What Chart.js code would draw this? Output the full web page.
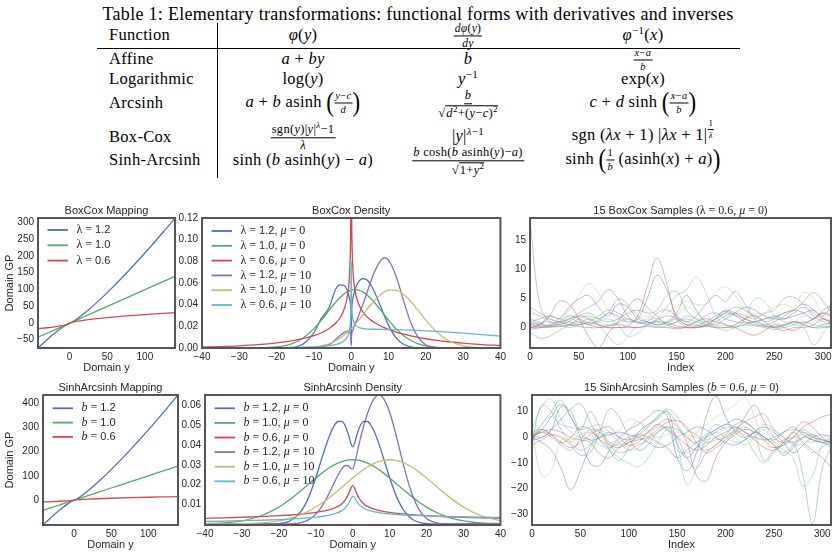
<!DOCTYPE html>
<html>
<head>
<meta charset="utf-8">
<script src="https://cdn.jsdelivr.net/npm/chart.js@4.4.0/dist/chart.umd.min.js"></script>
<style>
  body { margin: 0; width: 838px; height: 556px; position: relative; overflow: hidden; background: #fff;
         font-family: "Liberation Serif", "Times New Roman", serif; color: #000; }
  .t { position: absolute; white-space: nowrap; font-size: 16.5px; letter-spacing: 0.3px; line-height: 1; }
  .c { transform: translate(-50%, -50%); }
  .l { transform: translateY(-50%); }
  i { font-style: italic; }
  .sp { font-size: 11px; position: relative; top: -6px; }
  .fr { display: inline-flex; flex-direction: column; align-items: center; vertical-align: middle; font-size: 12.5px; line-height: 1.05; }
  .fr.fs { font-size: 10.5px; }
  .fr > span:first-child { border-bottom: 1px solid #000; padding: 0 1px 1px; }
  .fr > span:last-child { padding-top: 1px; }
  .sq { border-top: 1px solid #000; padding-left: 1px; }
  .bp { font-size: 23px; vertical-align: middle; display: inline-block; transform: scaleY(1.15); position: relative; top: -1px; }
  sup { font-size: 9px; }
  canvas { position: absolute; }
</style>
</head>
<body>

<!-- Table 1 -->
<div class="t c" style="left:418px;top:14px;font-size:18px">Table 1: Elementary transformations: functional forms with derivatives and inverses</div>
<div style="position:absolute;left:217px;top:23px;width:1px;height:155px;background:#000"></div>
<div style="position:absolute;left:97px;top:48px;width:643px;height:1px;background:#000"></div>

<div class="t l" style="left:109px;top:35px">Function</div>
<div class="t c" style="left:303px;top:35px"><i>φ</i>(<i>y</i>)</div>
<div class="t c" style="left:468px;top:36px"><span class="fr" style="font-size:11.5px"><span><i>dφ</i>(<i>y</i>)</span><span><i>dy</i></span></span></div>
<div class="t c" style="left:643px;top:35px"><i>φ</i><span class="sp">−1</span>(<i>x</i>)</div>

<div class="t l" style="left:109px;top:59px">Affine</div>
<div class="t c" style="left:303px;top:59px"><i>a</i> + <i>by</i></div>
<div class="t c" style="left:468px;top:59px"><i>b</i></div>
<div class="t c" style="left:643px;top:60px"><span class="fr fs"><span><i>x</i>−<i>a</i></span><span><i>b</i></span></span></div>

<div class="t l" style="left:109px;top:79px">Logarithmic</div>
<div class="t c" style="left:303px;top:79px">log(<i>y</i>)</div>
<div class="t c" style="left:468px;top:79px"><i>y</i><span class="sp">−1</span></div>
<div class="t c" style="left:643px;top:79px">exp(<i>x</i>)</div>

<div class="t l" style="left:109px;top:103px">Arcsinh</div>
<div class="t c" style="left:303px;top:103px"><i>a</i> + <i>b</i> asinh <span class="bp">(</span><span class="fr fs"><span><i>y</i>−<i>c</i></span><span><i>d</i></span></span><span class="bp">)</span></div>
<div class="t c" style="left:468px;top:105px"><span class="fr"><span><i>b</i></span><span>√<span class="sq"><i>d</i><sup>2</sup>+(<i>y</i>−<i>c</i>)<sup>2</sup></span></span></span></div>
<div class="t c" style="left:643px;top:103px"><i>c</i> + <i>d</i> sinh <span class="bp">(</span><span class="fr fs"><span><i>x</i>−<i>a</i></span><span><i>b</i></span></span><span class="bp">)</span></div>

<div class="t l" style="left:109px;top:137px">Box-Cox</div>
<div class="t c" style="left:303px;top:137px"><span class="fr"><span>sgn(<i>y</i>)|<i>y</i>|<sup><i>λ</i></sup>−1</span><span><i>λ</i></span></span></div>
<div class="t c" style="left:468px;top:136px">|<i>y</i>|<span class="sp"><i>λ</i>−1</span></div>
<div class="t c" style="left:643px;top:137px">sgn (<i>λx</i> + 1) |<i>λx</i> + 1|<span class="sp" style="top:-7px"><span class="fr" style="font-size:9px"><span>1</span><span><i>λ</i></span></span></span></div>

<div class="t l" style="left:109px;top:160px">Sinh-Arcsinh</div>
<div class="t c" style="left:303px;top:160px">sinh (<i>b</i> asinh(<i>y</i>) − <i>a</i>)</div>
<div class="t c" style="left:468px;top:162px"><span class="fr"><span><i>b</i> cosh(<i>b</i> asinh(<i>y</i>)−<i>a</i>)</span><span>√<span class="sq">1+<i>y</i><sup>2</sup></span></span></span></div>
<div class="t c" style="left:643px;top:160px">sinh <span class="bp">(</span><span class="fr fs"><span>1</span><span><i>b</i></span></span> (asinh(<i>x</i>) + <i>a</i>)<span class="bp">)</span></div>

<script>
// ---------- data ----------

// mapping panels (domain y -> domain GP)
const mapY     = [-42, -30, -20, -10, -5, -2, 0, 2, 5, 10, 20, 30, 50, 75, 100, 125, 140];
const bcMap12  = [-74.8, -50.2, -31.2, -14.0, -6.6, -2.75, -0.83, 1.08, 4.9, 12.4, 29.5, 48.5, 90.3, 147.4, 208.5, 272.8, 312.6];
const bcMap10  = [-43, -31, -21, -11, -6, -3, -1, 1, 4, 9, 19, 29, 49, 74, 99, 124, 139];
const bcMap06  = [-17.4, -14.5, -11.7, -8.3, -6.0, -4.2, -1.67, 0.86, 2.7, 5.0, 8.4, 11.2, 15.8, 20.6, 24.8, 28.5, 30.7];
const saMap12  = [-101.9, -68.1, -41.9, -18.2, -8.0, -2.7, 0, 2.7, 8.0, 18.2, 41.9, 68.1, 125.6, 204.4, 288.6, 377.3, 432.2];
const saMap10  = [-42, -30, -20, -10, -5, -2, 0, 2, 5, 10, 20, 30, 50, 75, 100, 125, 140];
const saMap06  = [-7.1, -5.8, -4.5, -2.9, -1.9, -1.0, 0, 1.0, 1.9, 2.9, 4.5, 5.8, 7.9, 10.1, 12.0, 13.7, 14.7];

// BoxCox density
const bcGrid = [-40, -35, -30, -25, -20, -16, -13, -10, -8, -6, -4, -3, -2, -1, -0.4, -0.1, 0, 0.1, 0.4, 1,
                2, 3, 4, 5, 6, 8, 9, 10, 12, 14, 16, 18, 20, 23, 26, 30, 35, 40];
const bcL12m0  = [0, 0, 0, 0, 0.00001, 0.00048, 0.00346, 0.0141, 0.0274, 0.0369, 0.0554, 0.0582, 0.0578, 0.0526, 0.0444,
                  0.0338, 0.004, 0.0338, 0.0448, 0.0539, 0.0613, 0.0640, 0.0633, 0.0597, 0.0535, 0.0373, 0.0288, 0.0211,
                  0.0096, 0.0034, 0.0010, 0.0002, 0, 0, 0, 0, 0, 0];
const bcL10m0  = [0, 0, 0.00001, 0.00011, 0.00096, 0.00385, 0.0090, 0.0179, 0.0257, 0.0345, 0.0429, 0.0466, 0.0497, 0.0520,
                  0.0529, 0.0533, 0.0534, 0.0535, 0.0537, 0.0539, 0.0534, 0.0520, 0.0497, 0.0466, 0.0429, 0.0345, 0.0300,
                  0.0257, 0.0179, 0.0115, 0.0069, 0.00385, 0.0020, 0.00065, 0.00018, 0.00002, 0, 0];
const bcL06m0  = [0.0009, 0.00136, 0.00203, 0.00305, 0.00464, 0.00654, 0.00857, 0.01144, 0.01409, 0.0178, 0.0235, 0.0279,
                  0.0348, 0.0487, 0.0730, 0.1301, 0.24, 0.1335, 0.0774, 0.0539, 0.0406, 0.0340, 0.0297, 0.0265, 0.0240,
                  0.0201, 0.0185, 0.01712, 0.01476, 0.01283, 0.01119, 0.00977, 0.00855, 0.00701, 0.00577, 0.00442,
                  0.00319, 0.00229];
const bcL12m10 = [0, 0, 0, 0, 0, 0, 0.00004, 0.00044, 0.0015, 0.00286, 0.00855, 0.01135, 0.0140, 0.01555, 0.01453,
                  0.01153, 0.002, 0.01177, 0.01624, 0.0216, 0.0300, 0.0390, 0.0487, 0.0588, 0.0682, 0.0813, 0.0832,
                  0.0812, 0.0665, 0.0440, 0.0231, 0.00955, 0.00305, 0.00033, 0.00002, 0, 0, 0];
const bcL10m10 = [0, 0, 0, 0, 0.00001, 0.00007, 0.00028, 0.00096, 0.0020, 0.00385, 0.0069, 0.0090, 0.0115, 0.0145, 0.0164,
                  0.0175, 0.0179, 0.0182, 0.0193, 0.0216, 0.0257, 0.0300, 0.0345, 0.0388, 0.0429, 0.0497, 0.0520, 0.0534,
                  0.0534, 0.0497, 0.0429, 0.0345, 0.0257, 0.0145, 0.0069, 0.0020, 0.00028, 0.00002];
const bcL06m10 = [0.00002, 0.00004, 0.00006, 0.00012, 0.00022, 0.00039, 0.00061, 0.00101, 0.00145, 0.00216, 0.00345,
                  0.00458, 0.0065, 0.01062, 0.01813, 0.0357, 0.08, 0.0427, 0.0273, 0.0216, 0.01905, 0.0181, 0.01766,
                  0.01742, 0.0173, 0.01714, 0.01708, 0.01703, 0.0169, 0.01672, 0.0165, 0.01621, 0.01587, 0.0153,
                  0.01464, 0.01365, 0.01232, 0.01096];
const bcLam = ['1.2', '1.0', '0.6', '1.2', '1.0', '0.6'];
const bcMu  = ['0', '0', '0', '10', '10', '10'];

// SinhArcsinh density
const saGrid = [-40, -35, -30, -25, -20, -17, -14, -12, -10, -8, -6, -5, -4, -3, -2, -1, -0.5, 0, 0.5, 1,
                2, 3, 4, 5, 6, 7, 8, 10, 12, 14, 16, 18, 20, 23, 26, 30, 35, 40];
const saB12m0  = [0, 0, 0, 0, 0.00024, 0.00151, 0.00636, 0.01325, 0.02343, 0.03542, 0.04615, 0.04988, 0.05197, 0.05206,
                  0.04970, 0.04436, 0.04090, 0.03908, 0.04090, 0.04436, 0.04970, 0.05206, 0.05197, 0.04988, 0.04615,
                  0.04117, 0.03542, 0.02343, 0.01325, 0.00636, 0.00255, 0.00086, 0.00024, 0.00002, 0, 0, 0, 0];
const saB10m0  = [0.00016, 0.00055, 0.00162, 0.00406, 0.00859, 0.01243, 0.01695, 0.02015, 0.02334, 0.02631, 0.02889,
                  0.02996, 0.03088, 0.03161, 0.03214, 0.03246, 0.03256, 0.03257, 0.03256, 0.03246, 0.03214, 0.03161,
                  0.03088, 0.02996, 0.02889, 0.02766, 0.02631, 0.02334, 0.02015, 0.01695, 0.01388, 0.01106, 0.00859,
                  0.00559, 0.00342, 0.00162, 0.00055, 0.00016];
const saB06m0  = [0.0029, 0.00314, 0.00342, 0.00377, 0.00422, 0.00457, 0.00501, 0.00539, 0.00586, 0.0065, 0.00741,
                  0.00806, 0.00892, 0.01018, 0.01219, 0.01578, 0.01821, 0.01954, 0.01821, 0.01578, 0.01219, 0.01018,
                  0.00892, 0.00806, 0.00741, 0.00691, 0.0065, 0.00586, 0.00539, 0.00501, 0.0047, 0.00445, 0.00422,
                  0.00394, 0.00369, 0.00342, 0.00314, 0.0029];
const saB12m10 = [0, 0, 0, 0, 0.00001, 0.00011, 0.00074, 0.00209, 0.00497, 0.00999, 0.01707, 0.02098, 0.02474, 0.02786,
                  0.02967, 0.02921, 0.02814, 0.02800, 0.03052, 0.03458, 0.04275, 0.04994, 0.05605, 0.06087, 0.06406,
                  0.06530, 0.06445, 0.05666, 0.04309, 0.02808, 0.01549, 0.00718, 0.00278, 0.00047, 0.00005, 0, 0, 0];
const saB10m10 = [0.00001, 0.00004, 0.00016, 0.00055, 0.00162, 0.00287, 0.00477, 0.00649, 0.00859, 0.01106, 0.01388,
                  0.01539, 0.01695, 0.01854, 0.02015, 0.02176, 0.02255, 0.02334, 0.02411, 0.02486, 0.02631, 0.02766,
                  0.02889, 0.02996, 0.03088, 0.03161, 0.03214, 0.03257, 0.03214, 0.03088, 0.02889, 0.02631, 0.02334,
                  0.01854, 0.01388, 0.00859, 0.00406, 0.00162];
const saB06m10 = [0.00131, 0.00147, 0.00167, 0.00191, 0.00224, 0.00249, 0.00282, 0.0031, 0.00345, 0.00393, 0.00461,
                  0.00509, 0.00574, 0.00668, 0.00818, 0.0109, 0.01279, 0.0140, 0.0133, 0.01173, 0.00932, 0.00796,
                  0.00712, 0.00654, 0.00612, 0.00579, 0.00552, 0.00511, 0.00481, 0.00457, 0.00438, 0.00422, 0.00409,
                  0.00392, 0.00377, 0.00361, 0.00344, 0.0033];
const saB  = ['1.2', '1.0', '0.6', '1.2', '1.0', '0.6'];
const saMu = ['0', '0', '0', '10', '10', '10'];

// 15 GP samples pushed through each transform, read every 10 points
const sampleIdx = [0, 10, 20, 30, 40, 50, 60, 70, 80, 90, 100, 110, 120, 130, 140, 150,
                   160, 170, 180, 190, 200, 210, 220, 230, 240, 250, 260, 270, 280, 290, 300, 310];
const bcSamples = [
  [1.5, 0.8, 0.3, 1.0, 2.0, 1.5, 0.8, 1.2, 2.5, 2.0, 1.0, 1.5, 5.0, 9.0, 6.5, 2.0, 0.5, 0.3, 1.0, 2.0, 2.8, 2.2, 1.5, 1.0, 1.5, 1.8, 2.5, 3.0, 2.5, 1.5, 3.0, 4.0],
  [-0.8, -1.8, -1.5, -0.5, 0.5, 1.5, 2.0, 1.5, 2.5, 4.9, 4.0, 2.0, 1.0, 0.5, 0.8, 1.5, 1.0, 0.5, 0.3, 1.0, 2.0, 2.5, 2.0, 1.5, 2.5, 3.0, 5.0, 5.2, 4.0, 2.5, 1.5, 1.0],
  [0.5, 0.2, 0.1, 0.2, 0.5, 1.0, 0.5, 0.1, 0.0, 0.0, 0.3, 2.0, 7.0, 11.9, 7.5, 1.5, 0.1, 0.1, 0.3, 1.5, 3.0, 2.5, 1.5, 0.8, 0.3, 0.2, 0.5, 1.0, 0.8, 1.5, 2.5, 2.0],
  [18.5, 4.0, 1.0, 0.5, 1.5, 2.5, 3.5, 4.5, 6.5, 5.0, 2.0, 0.8, 1.0, 2.5, 3.0, 2.0, 1.0, 2.0, 4.0, 5.5, 4.5, 6.2, 4.0, 1.5, 0.5, 1.0, 2.0, 3.0, 4.0, 3.0, 1.5, 0.8],
  [2.5, 2.0, 1.0, 1.5, 3.0, 5.5, 7.6, 6.0, 3.0, 1.5, 1.0, 1.5, 2.0, 1.5, 2.5, 3.5, 4.5, 4.0, 4.0, 6.0, 7.0, 5.5, 3.0, 2.0, 2.5, 3.5, 4.0, 3.5, 6.0, 5.0, 2.0, 1.0],
  [1.0, 0.5, 0.3, 0.8, 1.5, 1.0, 0.5, 1.0, 1.5, 0.5, -1.5, -1.0, 0.5, 1.5, 3.5, 5.5, 6.5, 8.7, 6.0, 2.0, 0.5, 0.0, 1.5, 5.0, 4.5, 2.0, 1.0, 0.5, 0.0, -3.0, -1.0, 2.0],
  [0.0, 0.5, 2.0, 1.5, 3.5, 4.9, 5.5, 3.5, 2.0, 4.0, 3.5, 1.5, 1.0, 0.5, 1.0, 2.5, 5.5, 3.0, 1.0, 0.5, 1.5, 2.5, 3.5, 3.0, 2.0, 1.5, 1.5, 2.0, 2.5, 3.0, 2.0, 4.5],
  [3.5, 2.5, 1.5, 1.0, 1.5, 2.0, 2.5, 1.5, 1.0, 1.5, 2.5, 3.0, 2.5, 3.0, 5.5, 6.2, 3.0, 1.5, 1.0, 1.5, 2.5, 3.5, 3.0, 2.0, 1.0, 1.5, 2.5, 3.0, 4.5, 6.0, 4.5, 2.0],
  [0.0, 0.5, 2.0, 4.5, 4.0, 1.5, -1.5, -3.5, -1.0, 1.0, 3.5, 4.9, 3.5, 2.0, 0.5, 0.0, 0.2, 1.0, 1.5, 1.0, 0.5, 0.0, -0.8, -1.3, -0.5, 0.5, 0.0, -0.5, 0.5, 1.5, 2.5, 1.5],
  [1.0, 1.5, 2.0, 1.5, 1.0, 0.5, 1.0, 2.0, 3.0, 2.5, 1.5, 1.0, 0.8, 1.2, 2.0, 1.5, 0.5, 1.0, 2.0, 2.5, 1.5, 1.0, 0.8, 1.0, 1.5, 2.0, 1.5, 2.5, 3.5, 2.0, 1.0, 0.5],
  [3.0, 2.0, 1.5, 1.0, 0.5, 0.8, 1.5, 1.0, 0.5, 1.0, 2.0, 3.0, 2.5, 1.5, 1.0, 2.0, 3.5, 2.5, 1.0, 0.5, 0.3, 0.5, 1.5, 2.5, 2.0, 1.0, 0.5, 1.0, 2.0, 1.5, 0.5, 1.0],
  [0.5, 0.8, 1.0, 0.5, 0.0, 0.5, 1.5, 0.5, -1.5, -2.9, -1.5, 0.5, 1.5, 1.0, 0.5, 1.0, 2.0, 1.5, 0.5, 0.0, -0.5, 0.0, 0.5, 1.0, 0.5, 0.0, 0.5, 1.0, 0.5, 0.0, 0.5, 1.0],
  [-0.3, 0.0, 0.5, 1.0, 0.5, 0.2, 0.0, 0.0, 0.3, 0.5, 0.2, 0.0, 0.5, 1.0, 0.8, 0.3, 0.0, 0.0, 0.5, 1.5, 2.5, 2.0, 1.0, 0.5, 0.2, 0.0, 0.3, 1.0, 0.5, 0.0, 0.0, 0.3],
  [0.8, 0.5, 0.3, 0.2, 0.3, 0.5, 0.8, 0.5, 0.3, 0.8, 1.5, 1.0, 0.5, 0.2, 0.3, 1.0, 1.5, 1.0, 0.5, 0.2, 0.0, 0.2, 0.5, 0.3, 0.0, -0.3, 0.0, 0.5, 1.0, 0.5, 0.2, 0.0],
  [0.0, 0.0, 0.1, 0.5, 1.0, 2.0, 1.5, 0.5, 0.0, 0.0, 0.0, 0.0, 0.2, 0.0, 0.0, -0.2, 0.0, 0.0, 0.2, 0.0, 0.0, 0.5, 1.5, 2.0, 1.0, 0.0, -0.5, 0.0, 0.0, 0.5, 1.5, 0.5]
];
const saSamples = [
  [0, 3, 8, 13, 8, 0, -10, -11, -5, 0, 3, 5, 8, 10.5, 8, -8, -13, -6, 8, 16, 8, 2, 0, 2, 0, -3, -7, -4, 0, -1, -2, -3],
  [-2, 12.5, 10, 3, -2, -5, -3, 2, -5, -9, -4, 2, 5, 8, 11, 8, 3, 1, -2, -1, 0, 2, 4, 1, -9, -5, -3, -2, -15, -33.5, -12, -3],
  [0, 2, 3, 2, 0, -1, -2, -6.5, -8, -4, -2, -1, 0, 3, 6, 6.5, 4, -2, -6, -4, -1, 2, 8, 12.5, 6, 0, -2, 0, 4, 6, 8, 9],
  [-3, -1, 1, 0, -3, -7, -6, 2, 11, 8, 0, -5, -3, 2, 4, 0, -8, -12, -6, -3, 0, 3, 6, 8, 9, 3, 0, -2, 0, 1, -1, -2],
  [3, -15, -13, -1, -2, 1, 2, 0, -2, -1, 3, 6, 3, -2, -5, -7.5, -3, 2, 5, 8, 10, 13, 15.5, 8, -2, -4, -1, 0, -1, -2, 0, 1],
  [3, 12, 15, 7, 2, 0, -1, -3, -5, -8, -10, -11.5, -8, -2, 3, -3, -18.5, -12, 0, 5, 3, 0, -3, 0, 3, -2, -5, -8, -19, -15, -3, 0],
  [1, 0, 3, 12, 10, 2, -1, 0, 2, 0, -1, 1, 4, 8, 10, -2, -8, -4, 0, 3, 5, 7, 6, 3, 0, -1, 2, 4, 1, -1, -2, -1],
  [0, 5, 10, 14.5, 8, 3, 10, 4, -2, -3, -1, 2, 5, 7, 10, 5, 0, -2, 0, 2, 4, 3, 0, -6, -10, -6, -3, 0, 3, 1, -1, -2],
  [2, 3, 1, -2, 0, 4, 3, -1, -3, -4, -2, 0, 2, 5, 7, 4, -2, -15, -17, -8, -2, 1, 3, 2, -1, -4, -2, 2, -2, -5, -8, -12],
  [-1, 0, 3, 7, 11, 13, 6, -1, -4, -2, 0, 1, 0, -2, -4, -8, -5, -2, 1, 3, 5, 4, 2, 0, -1, 0, 2, 3, 2, 0, -1, -2],
  [1, 2, 1, 0, -1, 0, 2, 3, 1, 3, 7, 6, 2, 0, 1, 2, 1, 0, -1, 0, 1, 2, 1, 0, -1, -2, -1, 0, 1, 0, -1, 0],
  [-2, 5, 8, 5, 4, 3, 4, 5, 2, -2, -5, -4, 0, 4, 3, -5, -6, -4, -2, 2, 0, -2, -1, 2, 5, 3, 0, -3, -3, -6, -4, -1],
  [0, -2, -5, -12, -20.5, -13, -4, 0, 1, 2, 1, 0, -2, -4, -3, 0, 2, 4, 3, 0, -2, -3, -1, 2, 4, 2, -2, -6, -3, 0, 1, 0],
  [1, 2, 0, -3, -5, -1, 3, 2, -3, -6, -5, -3, -1, 2, 4, 3, 0, -3, -5, -3, 1, 5, 6, 3, 0, -3, -6, -3, 2, 0, -2, -4],
  [-1, 3, 1, -2, -4, -2, 1, 3, 4, 0, -3, -2, 2, 5, 3, 0, -3, -5, -3, 0, 2, 4, 2, -1, -4, -5, -2, 2, 6, 4, 0, -3]
];

// ---------- styling ----------
const SANS = '"Liberation Sans", Arial, sans-serif';
const SERIF = '"Liberation Serif", "Times New Roman", serif';
const INK = '#262626';
const FRAME = '#555555';
const palette = ['76,114,176', '85,168,104', '196,78,82', '129,114,178', '204,185,116', '100,181,205'];
const solid = i => 'rgb(' + palette[i % 6] + ')';
const faded = i => 'rgba(' + palette[i % 6] + ',0.45)';

const minus = v => String(v).replace('-', '\u2212');

function pts(xs, ys) {
  return xs.map((x, k) => ({ x: x, y: ys[k] }));
}

function fontOf(kind, size) {
  if (kind === 's') return size + 'px ' + SANS;
  if (kind === 'i') return 'italic ' + (size + 1) + 'px ' + SERIF;
  return (size + 1) + 'px ' + SERIF;
}

function drawPieces(ctx, pieces, x, y, size, centered) {
  let w = 0;
  pieces.forEach(p => { ctx.font = fontOf(p[1], size); w += ctx.measureText(p[0]).width; });
  let cx = centered ? x - w / 2 : x;
  ctx.textBaseline = 'middle';
  ctx.textAlign = 'left';
  pieces.forEach(p => {
    ctx.font = fontOf(p[1], size);
    ctx.fillText(p[0], cx, y);
    cx += ctx.measureText(p[0]).width;
  });
}

// titles, in-axes legends and the frame
const decor = {};
const decorPlugin = {
  id: 'decor',
  afterDatasetsDraw(chart) {
    const d = decor[chart.canvas.id];
    const a = chart.chartArea;
    const ctx = chart.ctx;
    ctx.save();
    ctx.strokeStyle = FRAME;
    ctx.lineWidth = 2;
    ctx.strokeRect(a.left, a.top, a.right - a.left, a.bottom - a.top);
    ctx.fillStyle = INK;
    drawPieces(ctx, d.title, (a.left + a.right) / 2, a.top - 7, 11, true);
    if (d.legend) {
      d.legend.forEach((item, i) => {
        const y = a.top + d.legTop + i * d.legGap;
        const x = a.left + 9.5;
        ctx.strokeStyle = solid(i);
        ctx.lineWidth = 1.8;
        ctx.beginPath();
        ctx.moveTo(x, y);
        ctx.lineTo(x + 20.5, y);
        ctx.stroke();
        ctx.fillStyle = INK;
        drawPieces(ctx, item, x + 29, y, 11, false);
      });
    }
    ctx.restore();
  }
};

function scaleOpts(axis, min, max, ticks, fmt, size, title) {
  const horiz = axis === 'x';
  return {
    type: 'linear',
    position: horiz ? 'bottom' : 'left',
    min: min,
    max: max,
    grid: { display: false, drawTicks: false },
    border: { display: false },
    ticks: {
      font: { family: SANS, size: 10 },
      color: INK,
      padding: horiz ? 3 : 4,
      maxRotation: 0,
      autoSkip: false,
      callback: v => fmt(v)
    },
    afterBuildTicks: s => { s.ticks = ticks.map(v => ({ value: v })); },
    afterFit: s => { if (horiz) s.height = size; else s.width = size; },
    title: title
      ? { display: true, text: title, color: INK, font: { family: SANS, size: 11 },
          padding: horiz ? { top: 0, bottom: 3.4 } : { top: 3.4, bottom: 0 } }
      : { display: false }
  };
}

function makeChart(id, box, datasets, xs, ys) {
  const c = document.createElement('canvas');
  c.id = id;
  const left = box.L - box.yw;
  const top = box.T - 20;
  c.width = box.R + box.pr - left;
  c.height = box.B + 30 - top;
  c.style.left = left + 'px';
  c.style.top = top + 'px';
  document.body.appendChild(c);
  return new Chart(c, {
    type: 'line',
    data: { datasets: datasets },
    options: {
      responsive: false,
      animation: false,
      devicePixelRatio: 1,
      events: [],
      layout: { padding: { top: 20, right: box.pr, left: 0, bottom: 0 } },
      plugins: { legend: { display: false }, tooltip: { enabled: false } },
      scales: {
        x: scaleOpts('x', xs.min, xs.max, xs.ticks, xs.fmt, 30, xs.title),
        y: scaleOpts('y', ys.min, ys.max, ys.ticks, ys.fmt, box.yw, ys.title)
      }
    },
    plugins: [decorPlugin]
  });
}

function lineSet(xs, ys, i, width) {
  return {
    data: pts(xs, ys),
    borderColor: solid(i),
    borderWidth: width || 1.3,
    pointRadius: 0,
    fill: false,
    cubicInterpolationMode: 'monotone',
    order: -i
  };
}

function sampleSet(ys, i) {
  return {
    data: pts(sampleIdx, ys),
    borderColor: faded(i),
    borderWidth: 1,
    pointRadius: 0,
    fill: false,
    tension: 0.4,
    order: -i
  };
}

const fmtInt = v => minus(v);
const fmt2 = v => minus(v.toFixed(2));

// legend labels built from the parameter lists
const bcLegend = bcLam.map((l, k) => [['λ', 'm'], [' = ', 'm'], [l, 's'], [', ', 's'], ['μ', 'i'], [' = ' + bcMu[k], 'm']]);
const saLegend = saB.map((b, k) => [['b', 'i'], [' = ', 'm'], [b, 's'], [', ', 's'], ['μ', 'i'], [' = ' + saMu[k], 'm']]);

// ---------- top row ----------
decor.c1 = { title: [['BoxCox Mapping', 's']], legend: bcLegend.slice(0, 3).map(p => p.slice(0, 3)), legTop: 12, legGap: 15.3 };
makeChart('c1', { L: 38, T: 218, R: 175, B: 348, yw: 38, pr: 5 },
  [lineSet(mapY, bcMap12, 0), lineSet(mapY, bcMap10, 1), lineSet(mapY, bcMap06, 2)],
  { min: -42, max: 140, ticks: [0, 50, 100], fmt: fmtInt, title: 'Domain y' },
  { min: -75, max: 313, ticks: [-50, 0, 50, 100, 150, 200, 250, 300], fmt: fmtInt, title: 'Domain GP' });

decor.c2 = { title: [['BoxCox Density', 's']], legend: bcLegend, legTop: 13, legGap: 14.8 };
makeChart('c2', { L: 202, T: 218, R: 503, B: 348, yw: 30, pr: 6 },
  [bcL12m0, bcL10m0, bcL06m0, bcL12m10, bcL10m10, bcL06m10].map((v, i) => lineSet(bcGrid, v, i)),
  { min: -40, max: 40, ticks: [-40, -30, -20, -10, 0, 10, 20, 30, 40], fmt: fmtInt, title: 'Domain y' },
  { min: 0, max: 0.12, ticks: [0, 0.02, 0.04, 0.06, 0.08, 0.10, 0.12], fmt: fmt2 });

decor.c3 = { title: [['15 BoxCox Samples (', 's'], ['λ', 'm'], [' = 0.6, ', 'm'], ['μ', 'i'], [' = 0', 'm'], [')', 's']] };
makeChart('c3', { L: 530, T: 218, R: 831, B: 348, yw: 30, pr: 7 },
  bcSamples.map((v, i) => sampleSet(v, i)),
  { min: 0, max: 308, ticks: [0, 50, 100, 150, 200, 250, 300], fmt: fmtInt, title: 'Index' },
  { min: -3.5, max: 18.8, ticks: [0, 5, 10, 15], fmt: fmtInt });

// ---------- bottom row ----------
decor.c4 = { title: [['SinhArcsinh Mapping', 's']], legend: saLegend.slice(0, 3).map(p => p.slice(0, 3)), legTop: 13.3, legGap: 14.3 };
makeChart('c4', { L: 43, T: 395, R: 178, B: 525, yw: 43, pr: 4 },
  [lineSet(mapY, saMap12, 0), lineSet(mapY, saMap10, 1), lineSet(mapY, saMap06, 2)],
  { min: -42, max: 140, ticks: [0, 50, 100], fmt: fmtInt, title: 'Domain y' },
  { min: -102, max: 432, ticks: [0, 100, 200, 300, 400], fmt: fmtInt, title: 'Domain GP' });

decor.c5 = { title: [['SinhArcsinh Density', 's']], legend: saLegend, legTop: 13.3, legGap: 14.6 };
makeChart('c5', { L: 205, T: 395, R: 503, B: 525, yw: 33, pr: 6 },
  [saB12m0, saB10m0, saB06m0, saB12m10, saB10m10, saB06m10].map((v, i) => lineSet(saGrid, v, i)),
  { min: -40, max: 40, ticks: [-40, -30, -20, -10, 0, 10, 20, 30, 40], fmt: fmtInt, title: 'Domain y' },
  { min: -0.0005, max: 0.0654, ticks: [0.01, 0.02, 0.03, 0.04, 0.05, 0.06], fmt: fmt2 });

decor.c6 = { title: [['15 SinhArcsinh Samples (', 's'], ['b', 'i'], [' = 0.6, ', 'm'], ['μ', 'i'], [' = 0', 'm'], [')', 's']] };
makeChart('c6', { L: 532, T: 395, R: 831, B: 525, yw: 32, pr: 7 },
  saSamples.map((v, i) => sampleSet(v, i)),
  { min: 0, max: 309, ticks: [0, 50, 100, 150, 200, 250, 300], fmt: fmtInt, title: 'Index' },
  { min: -34.2, max: 16.5, ticks: [-30, -20, -10, 0, 10], fmt: fmtInt });
</script>
</body>
</html>
